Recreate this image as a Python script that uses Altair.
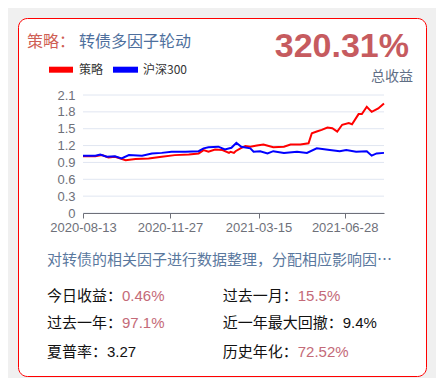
import altair as alt
import pandas as pd

# ---------------- data ----------------
strategy_dates = ["2020-08-13", "2020-08-28", "2020-09-05", "2020-09-13", "2020-09-21", "2020-10-04",
                  "2020-10-16", "2020-11-01", "2020-11-17", "2020-12-03", "2020-12-20", "2021-01-01",
                  "2021-01-07", "2021-01-13", "2021-01-21", "2021-01-30", "2021-02-07", "2021-02-09",
                  "2021-02-13", "2021-02-15", "2021-02-21", "2021-02-27", "2021-03-05", "2021-03-13",
                  "2021-03-21", "2021-04-02", "2021-04-15", "2021-04-23", "2021-05-05", "2021-05-15",
                  "2021-05-19", "2021-05-25", "2021-05-31", "2021-06-07", "2021-06-13", "2021-06-19",
                  "2021-06-25", "2021-07-03", "2021-07-07", "2021-07-15", "2021-07-19", "2021-07-25",
                  "2021-07-31", "2021-08-08", "2021-08-15"]
strategy_values = [1.01, 1.01, 1.03, 0.99, 1.00, 0.94,
                   0.96, 0.97, 1.00, 1.03, 1.04, 1.06,
                   1.12, 1.09, 1.13, 1.12, 1.07, 1.09,
                   1.07, 1.10, 1.15, 1.19, 1.18, 1.20,
                   1.22, 1.17, 1.18, 1.22, 1.22, 1.24,
                   1.42, 1.45, 1.48, 1.52, 1.51, 1.45,
                   1.57, 1.60, 1.58, 1.76, 1.76, 1.89,
                   1.80, 1.86, 1.95]

hs300_dates = ["2020-08-13", "2020-08-28", "2020-09-03", "2020-09-11", "2020-09-21", "2020-09-29",
               "2020-10-08", "2020-10-24", "2020-11-05", "2020-11-17", "2020-11-29", "2020-12-16",
               "2021-01-01", "2021-01-07", "2021-01-13", "2021-01-25", "2021-02-02", "2021-02-10",
               "2021-02-16", "2021-02-22", "2021-03-05", "2021-03-09", "2021-03-17", "2021-03-26",
               "2021-04-02", "2021-04-15", "2021-05-01", "2021-05-13", "2021-05-25", "2021-06-10",
               "2021-06-22", "2021-06-30", "2021-07-12", "2021-07-25", "2021-07-31", "2021-08-06",
               "2021-08-15"]
hs300_values = [1.02, 1.02, 1.04, 1.00, 1.01, 0.97,
                1.03, 1.02, 1.06, 1.07, 1.09, 1.09,
                1.10, 1.15, 1.17, 1.18, 1.13, 1.16,
                1.25, 1.18, 1.15, 1.09, 1.10, 1.06,
                1.10, 1.07, 1.09, 1.07, 1.15, 1.12,
                1.10, 1.12, 1.09, 1.10, 1.02, 1.06,
                1.07]

series_names = ["策略", "沪深300"]
series_colors = ["#ff0000", "#0000ff"]
y_ticks = [0, 0.3, 0.6, 0.9, 1.2, 1.5, 1.8, 2.1]
x_tick_dates = [(2020, 8, 13), (2020, 11, 27), (2021, 3, 15), (2021, 6, 28)]
x_domain = [(2020, 8, 13), (2021, 8, 15)]

title_prefix = "策略："
title_name = "转债多因子轮动"
total_return = "320.31%"
total_label = "总收益"
description = "对转债的相关因子进行数据整理，分配相应影响因…"
stat_rows = [
    ("今日收益：", "0.46%", "过去一月：", "15.5%"),
    ("过去一年：", "97.1%", "近一年最大回撤：", "9.4%"),
    ("夏普率：", "3.27", "历史年化：", "72.52%"),
]
value_highlight = [(True, True), (True, False), (False, True)]

# ---------------- table ----------------
df = pd.concat([
    pd.DataFrame({"date": strategy_dates, "value": strategy_values, "series": series_names[0]}),
    pd.DataFrame({"date": hs300_dates, "value": hs300_values, "series": series_names[1]}),
])
grid_df = pd.DataFrame({"value": y_ticks})

FONT = "'Liberation Sans', 'Noto Sans CJK SC', sans-serif"
CJK = "'Noto Sans CJK SC', 'Liberation Sans', sans-serif"

def dt(t):
    return alt.DateTime(year=t[0], month=t[1], date=t[2], utc=True)

one = alt.Data(values=[{}])

def text_layer(txt, x, y, color, size, align="left", weight="normal", font=CJK, baseline="middle"):
    return alt.Chart(one).mark_text(
        text=txt, align=align, baseline=baseline, fontSize=size, fontWeight=weight,
        font=font, color=color,
    ).encode(x=alt.value(x), y=alt.value(y))

def swatch(x1, x2, y1, y2, color):
    return alt.Chart(one).mark_rect(fill=color).encode(
        x=alt.value(x1), x2=alt.value(x2), y=alt.value(y1), y2=alt.value(y2))

# card background
card = alt.Chart(one).mark_rect(
    fill="#ffffff", stroke="#ff0000", strokeWidth=1, cornerRadius=9
).encode(x=alt.value(-64.5), x2=alt.value(343.5), y=alt.value(-76.5), y2=alt.value(281.5))

y_scale = alt.Scale(domain=[0, 2.1], nice=False, zero=True)
y_axis = alt.Axis(values=y_ticks, title=None, domain=False, ticks=False, grid=False,
                  format=".1~f",
                  labelColor="#6e7079", labelFontSize=13,
                  labelFont=FONT, labelPadding=8, zindex=1)

grid = alt.Chart(grid_df).mark_rule(color="#e0e6f1", strokeWidth=1).encode(
    y=alt.Y("value:Q", scale=y_scale, axis=y_axis),
    x=alt.value(0), x2=alt.value(301),
)

lines = alt.Chart(df).mark_line(strokeWidth=2, interpolate="linear").encode(
    x=alt.X("date:T",
            scale=alt.Scale(type="utc", domain=[dt(d) for d in x_domain], nice=False),
            axis=alt.Axis(values=[dt(d) for d in x_tick_dates],
                          labelExpr="utcFormat(datum.value, '%Y-%m-%d')",
                          title=None, grid=False, domainColor="#6e7079", tickColor="#6e7079",
                          tickSize=5, labelColor="#6e7079", labelFontSize=13, labelFont=FONT,
                          labelPadding=3, labelOverlap=False, labelFlush=False, zindex=1)),
    y=alt.Y("value:Q", scale=y_scale, axis=y_axis),
    color=alt.Color("series:N", sort=series_names,
                    scale=alt.Scale(domain=series_names, range=series_colors),
                    legend=None),
    order=alt.Order("date:T"),
)

layers = [card, grid, lines]
# legend
layers.append(swatch(-34, -10, -28.3, -22.3, series_colors[0]))
layers.append(text_layer(series_names[0], -4, -25.5, "#333333", 12))
layers.append(swatch(30, 55, -28.3, -22.3, series_colors[1]))
layers.append(text_layer(series_names[1], 60, -25.5, "#333333", 12))
# header
layers.append(text_layer(title_prefix, -56, -53, "#cf5f55", 16))
layers.append(text_layer(title_name, -4, -53, "#4e6f9d", 16))
layers.append(text_layer(total_return, 326, -38.5, "#c65b5f", 34, align="right", weight="bold",
                         font=FONT, baseline="alphabetic"))
layers.append(text_layer(total_label, 330, -18, "#5f6e85", 14, align="right"))
layers.append(text_layer(description, -36, 165, "#5a789e", 15))

row_y = [201, 228, 257]
col_x = [-36, 139.7]
for (l1, v1, l2, v2), (h1, h2), yy in zip(stat_rows, value_highlight, row_y):
    for lab, val, hl, xx in ((l1, v1, h1, col_x[0]), (l2, v2, h2, col_x[1])):
        layers.append(text_layer(lab, xx, yy, "#111111", 15))
        layers.append(text_layer(val, xx + 15 * len(lab), yy, "#c46a78" if hl else "#111111", 15,
                                 font=FONT))

chart = alt.layer(*layers).properties(
    width=301, height=118,
    autosize=alt.AutoSizeParams(type="none"),
    padding={"left": 75, "top": 87, "right": 52, "bottom": 165},
).configure(background="#f0f0f0").configure_view(stroke=None)

chart.save("out.html", embed_options={"renderer": "svg", "actions": False})
